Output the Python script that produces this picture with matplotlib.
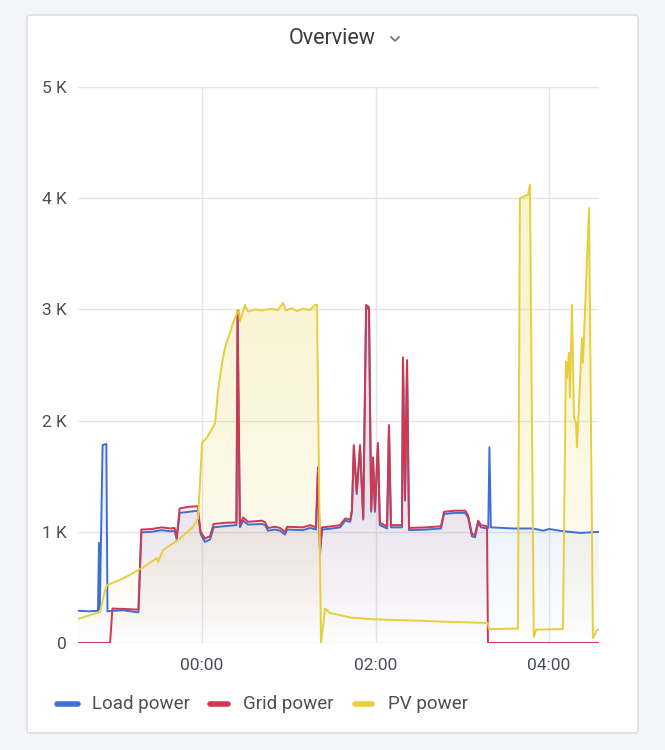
import numpy as np
import matplotlib
matplotlib.use('Agg')
import matplotlib.pyplot as plt
from matplotlib.patches import FancyBboxPatch, Polygon
from matplotlib.lines import Line2D
from matplotlib.ticker import FixedLocator, FuncFormatter

plt.rcParams['font.family'] = ['Roboto', 'DejaVu Sans']

# ── data: minutes relative to 00:00, power in W ─────────────────────────────
# (ten points per line, time and value lines match one to one)
load_min = [-86, -78, -72, -71.3, -70.7, -68.8, -66.2, -65.4, -55, -44,
            -42, -35, -28, -22, -19, -17.5, -15.5, -9, -3, -1,
            2, 5.5, 8, 15, 23.8, 24.6, 26.2, 28.4, 31.8, 41.5,
            43.6, 45.6, 50.5, 53.9, 57.4, 58.8, 69.9, 74.7, 78.8, 80.2,
            81.6, 83, 90, 95.5, 99, 102.5, 103.7, 105, 107, 109.3,
            111.5, 113.5, 115.5, 117, 118.3, 119.6, 121.7, 123, 128, 129.3,
            130.7, 138.3, 139, 140.4, 141.8, 143.2, 155, 165.3, 167.4, 175,
            182, 184, 186.7, 188.8, 191, 193, 197.1, 198.0, 198.8, 199.8,
            215, 229, 236, 240, 250, 262, 275]
load_w = [290, 285, 290, 900, 300, 1780, 1790, 285, 295, 275,
          995, 1000, 1015, 1005, 1010, 930, 1170, 1180, 1190, 980,
          910, 930, 1040, 1050, 1060, 2960, 1040, 1100, 1065, 1070,
          1060, 1010, 1020, 1010, 975, 1020, 1015, 1035, 1020, 1550,
          800, 1020, 1030, 1040, 1100, 1090, 1180, 1760, 1340, 1760,
          1110, 3020, 3000, 1180, 1650, 1180, 1780, 1060, 1030, 1940,
          1040, 1040, 2550, 1280, 2520, 1015, 1020, 1030, 1160, 1170,
          1170, 1130, 960, 950, 1080, 1040, 1030, 1035, 1760, 1040,
          1030, 1030, 1010, 1025, 1005, 990, 1000]

grid_min = [-86, -63.6, -62, -52, -44, -42, -35, -28, -22, -19,
            -17.5, -15.5, -9, -3, -1, 2, 5.5, 8, 15, 23.8,
            24.6, 26.2, 28.4, 31.8, 41.5, 43.6, 45.6, 50.5, 53.9, 57.4,
            58.8, 69.9, 74.7, 78.8, 80.2, 81.6, 83, 90, 95.5, 99,
            102.5, 103.7, 105, 107, 109.3, 111.5, 113.5, 115.5, 117, 118.3,
            119.6, 121.7, 123, 128, 129.3, 130.7, 138.3, 139, 140.4, 141.8,
            143.2, 155, 165.3, 167.4, 175, 182, 184, 186.7, 188.8, 191,
            193, 197.1, 197.8, 275]
grid_w = [0, 0, 310, 305, 300, 1020, 1025, 1040, 1030, 1035,
          950, 1210, 1225, 1230, 1000, 940, 960, 1070, 1080, 1085,
          2990, 1060, 1130, 1090, 1100, 1085, 1035, 1045, 1035, 1000,
          1045, 1040, 1060, 1040, 1580, 820, 1040, 1050, 1060, 1120,
          1110, 1200, 1780, 1360, 1780, 1130, 3040, 3020, 1200, 1670,
          1200, 1800, 1080, 1050, 1960, 1060, 1060, 2570, 1300, 2545,
          1035, 1040, 1050, 1180, 1190, 1190, 1150, 980, 970, 1100,
          1060, 1050, 0, 0]

pv_min = [-86, -70.5, -67.1, -65.7, -54.6, -41.5, -31.1, -30.4, -27, -15.2,
          -6.2, -2.8, -1.4, 0, 3.5, 9, 11.1, 13.8, 15.9, 19.4,
          21.4, 24.2, 25.6, 26.3, 29.7, 31.8, 36.7, 41.5, 47, 52.6,
          56, 58.1, 62.2, 65.7, 69.9, 74.7, 78.2, 79.5, 82.3, 85.1,
          88.5, 95.4, 102.4, 116.2, 137, 150.8, 171.5, 185.3, 197.8, 198.5,
          218.5, 219.9, 225.5, 226.8, 229.5, 231, 249.7, 251.7, 252.4, 253.8,
          254.5, 255.9, 257.3, 258.7, 259.4, 262.8, 263.5, 267.7, 270.4, 273.2,
          275.3]
pv_w = [215, 280, 475, 520, 580, 675, 765, 730, 835, 940,
        1045, 1120, 1440, 1800, 1850, 1975, 2270, 2515, 2660, 2790,
        2880, 2965, 2995, 2890, 3040, 2980, 3000, 2990, 3005, 2995,
        3060, 2990, 3010, 2985, 3005, 2995, 3040, 3040, 0, 310,
        270, 250, 230, 215, 205, 200, 190, 185, 180, 125,
        130, 4000, 4030, 4120, 55, 120, 125, 2530, 2380, 2610,
        2210, 3040, 2030, 1980, 1760, 2740, 2520, 3910, 45, 117,
        120]

assert len(load_min) == len(load_w)
assert len(grid_min) == len(grid_w)
assert len(pv_min) == len(pv_w)

SERIES = [('Load power', load_min, load_w, '#3f6fd6'),
          ('Grid power', grid_min, grid_w, '#d0384e'),
          ('PV power', pv_min, pv_w, '#e6cf3c')]

W, H = 665, 750


def fx(x):
    return x / W


def fy(y):
    return 1 - y / H


def gradient_fill(ax, x, y, color, alpha_top, ramp_top):
    """Grafana-style opacity gradient under a line."""
    x = np.asarray(x, float); y = np.asarray(y, float)
    verts = np.vstack([[x[0], 0], np.column_stack([x, y]), [x[-1], 0]])
    clip = Polygon(verts, closed=True, fc='none', ec='none')
    ax.add_patch(clip)
    rgb = matplotlib.colors.to_rgb(color)
    levels = np.linspace(0, 5000, 400)
    img = np.zeros((400, 1, 4))
    img[:, :, :3] = rgb
    img[:, 0, 3] = alpha_top * np.clip(levels / ramp_top, 0, 1) ** 0.8
    im = ax.imshow(img, aspect='auto', origin='lower',
                   extent=[x.min(), x.max(), 0, 5000], zorder=1)
    im.set_clip_path(clip)


fig = plt.figure(figsize=(6.65, 7.5), dpi=100, facecolor='#f4f5f7')
panel = FancyBboxPatch((fx(27), fy(733)), fx(611), 718 / H,
                       boxstyle='round,pad=0,rounding_size=0.005',
                       transform=fig.transFigure, fc='white', ec='#dcdee2',
                       lw=1.2, zorder=-5)
fig.patches.append(panel)

ax = fig.add_axes([fx(78), fy(643), fx(521), 556 / H], zorder=2)
ax.set_facecolor('none')

gradient_fill(ax, load_min, load_w, '#3f6fd6', 0.10, 1300)
gradient_fill(ax, grid_min, grid_w, '#d0384e', 0.08, 1300)
gradient_fill(ax, pv_min, pv_w, '#e6cf3c', 0.24, 3200)

for k, (name, t, w, c) in enumerate(SERIES):
    ax.plot(t, w, color=c, lw=1.4, zorder=3 + k, solid_joinstyle='round')

ax.set_xlim(-85.8, 274.6)
ax.set_ylim(0, 5000)
ax.xaxis.set_major_locator(FixedLocator([0, 120, 240]))
ax.xaxis.set_major_formatter(FuncFormatter(lambda v, p: f'{int(v // 60):02d}:00'))
ax.yaxis.set_major_locator(FixedLocator([0, 1000, 2000, 3000, 4000, 5000]))
ax.yaxis.set_major_formatter(FuncFormatter(
    lambda v, p: '0' if v == 0 else f'{int(v / 1000)} K'))
ax.grid(True, color='#e4e5e7', lw=1, zorder=0)
ax.set_axisbelow(True)
for s in ax.spines.values():
    s.set_visible(False)
ax.tick_params(length=0, labelsize=12.5, colors='#4a4f55')
ax.tick_params(axis='y', pad=8)
ax.tick_params(axis='x', pad=11)

# title
fig.text(fx(332), fy(38), 'Overview', ha='center', va='center',
         fontsize=15.5, fontweight='normal', color='#35393f')
fig.add_artist(Line2D([fx(391), fx(395), fx(399)], [fy(37), fy(41), fy(37)],
                      transform=fig.transFigure, color='#6b7078', lw=1.2))

# legend
legend_pos = [(57, 78, 92), (210, 228, 243), (355, 372, 388)]
for (name, _, _, c), (x0, x1, xt) in zip(SERIES, legend_pos):
    fig.add_artist(Line2D([fx(x0), fx(x1)], [fy(704), fy(704)],
                          transform=fig.transFigure, color=c, lw=4,
                          solid_capstyle='round'))
    fig.text(fx(xt), fy(704), name, ha='left', va='center', fontsize=13.5,
             color='#4a4f55')

fig.savefig('out.png', dpi=100, facecolor=fig.get_facecolor())
